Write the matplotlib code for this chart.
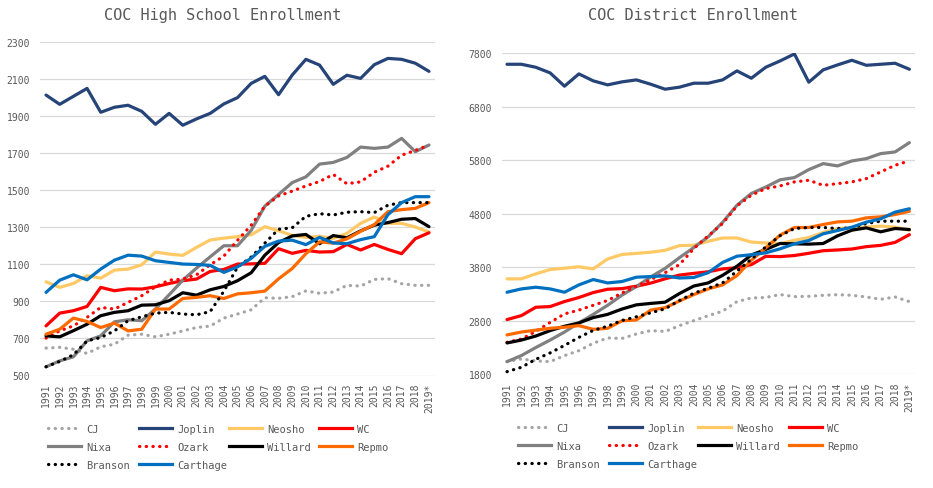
import matplotlib
matplotlib.use("Agg")
import matplotlib.pyplot as plt
from matplotlib.lines import Line2D

years = [str(y) for y in range(1991, 2019)] + ["2019*"]
series_names = ["CJ", "Joplin", "Neosho", "WC", "Nixa", "Ozark", "Willard", "Repmo", "Branson", "Carthage"]

# ---- High school enrollment ----
hs_cj = [648, 652, 642, 619, 655, 669, 718, 723, 709, 723, 741, 759, 767, 810, 832, 855, 920, 917, 926, 957, 944, 951, 987, 983, 1019, 1023, 996, 987, 987]
hs_joplin = [2015, 1965, 2008, 2051, 1922, 1949, 1960, 1927, 1857, 1916, 1852, 1886, 1916, 1967, 2001, 2078, 2116, 2017, 2123, 2208, 2177, 2073, 2122, 2105, 2179, 2213, 2208, 2187, 2143]
hs_neosho = [1006, 976, 997, 1039, 1026, 1069, 1075, 1098, 1167, 1156, 1149, 1192, 1232, 1242, 1250, 1260, 1304, 1282, 1257, 1246, 1252, 1240, 1268, 1322, 1356, 1322, 1322, 1302, 1275]
hs_wc = [768, 837, 850, 873, 976, 958, 968, 967, 979, 997, 1012, 1021, 1062, 1073, 1102, 1103, 1106, 1185, 1160, 1176, 1167, 1169, 1208, 1178, 1208, 1181, 1158, 1239, 1271]
hs_nixa = [547, 579, 601, 687, 714, 790, 801, 796, 859, 936, 1015, 1080, 1141, 1201, 1201, 1284, 1415, 1478, 1542, 1573, 1642, 1651, 1678, 1734, 1727, 1734, 1781, 1709, 1745]
hs_ozark = [702, 741, 768, 814, 868, 859, 895, 931, 979, 1015, 1021, 1044, 1098, 1145, 1230, 1312, 1415, 1470, 1496, 1524, 1548, 1586, 1536, 1546, 1598, 1631, 1690, 1716, 1745]
hs_willard = [714, 709, 742, 777, 823, 841, 850, 880, 882, 904, 947, 934, 963, 981, 1012, 1055, 1150, 1218, 1254, 1262, 1212, 1256, 1244, 1281, 1312, 1326, 1344, 1348, 1304]
hs_repmo = [723, 750, 810, 792, 759, 783, 741, 750, 859, 859, 916, 922, 931, 916, 941, 947, 956, 1022, 1078, 1158, 1222, 1215, 1238, 1279, 1315, 1385, 1396, 1403, 1434]
hs_branson = [547, 576, 612, 687, 705, 741, 796, 817, 837, 841, 832, 828, 845, 955, 1085, 1140, 1215, 1290, 1298, 1360, 1374, 1367, 1382, 1385, 1380, 1420, 1434, 1434, 1434]
hs_carthage = [949, 1015, 1044, 1017, 1075, 1123, 1150, 1145, 1120, 1111, 1102, 1100, 1095, 1057, 1087, 1133, 1198, 1226, 1231, 1207, 1246, 1216, 1212, 1234, 1250, 1369, 1434, 1466, 1466]

# ---- District enrollment ----
d_cj = [2037, 2087, 2050, 2037, 2149, 2242, 2380, 2480, 2470, 2554, 2617, 2600, 2710, 2804, 2895, 2980, 3158, 3226, 3236, 3291, 3252, 3258, 3276, 3288, 3276, 3246, 3202, 3246, 3158]
d_joplin = [7595, 7595, 7539, 7434, 7185, 7415, 7285, 7210, 7266, 7303, 7222, 7129, 7167, 7241, 7241, 7303, 7471, 7334, 7539, 7657, 7788, 7260, 7490, 7583, 7670, 7576, 7595, 7614, 7502]
d_neosho = [3584, 3584, 3677, 3758, 3783, 3810, 3770, 3956, 4040, 4060, 4082, 4118, 4205, 4212, 4286, 4348, 4348, 4272, 4255, 4243, 4305, 4356, 4452, 4524, 4540, 4552, 4570, 4552, 4492]
d_wc = [2823, 2897, 3053, 3066, 3160, 3235, 3328, 3390, 3402, 3446, 3505, 3585, 3655, 3686, 3717, 3770, 3792, 3850, 4005, 4000, 4020, 4062, 4110, 4124, 4142, 4186, 4210, 4265, 4410]
d_nixa = [2037, 2150, 2300, 2440, 2590, 2760, 2920, 3090, 3280, 3440, 3620, 3780, 3980, 4170, 4370, 4640, 4960, 5180, 5300, 5435, 5477, 5626, 5738, 5695, 5788, 5831, 5925, 5956, 6130]
d_ozark = [2398, 2460, 2600, 2770, 2929, 3000, 3090, 3180, 3320, 3446, 3570, 3700, 3850, 4150, 4388, 4618, 4948, 5147, 5271, 5321, 5396, 5427, 5333, 5364, 5396, 5458, 5582, 5707, 5790]
d_willard = [2386, 2440, 2515, 2617, 2698, 2760, 2860, 2920, 3020, 3098, 3125, 3148, 3310, 3450, 3508, 3650, 3820, 4030, 4133, 4245, 4239, 4233, 4245, 4388, 4494, 4537, 4463, 4525, 4506]
d_repmo = [2536, 2590, 2625, 2660, 2680, 2710, 2640, 2660, 2800, 2815, 3000, 3045, 3170, 3290, 3396, 3471, 3645, 3930, 4164, 4400, 4544, 4544, 4600, 4649, 4662, 4724, 4743, 4786, 4848]
d_branson = [1849, 1931, 2080, 2200, 2340, 2490, 2620, 2700, 2806, 2875, 2949, 3024, 3179, 3316, 3409, 3508, 3730, 3950, 4180, 4390, 4525, 4544, 4544, 4525, 4537, 4618, 4662, 4662, 4662]
d_carthage = [3334, 3396, 3428, 3396, 3334, 3471, 3571, 3508, 3534, 3615, 3627, 3640, 3600, 3610, 3700, 3890, 4008, 4035, 4070, 4145, 4239, 4301, 4426, 4488, 4550, 4644, 4706, 4831, 4894]

hs_ticks = [500, 700, 900, 1100, 1300, 1500, 1700, 1900, 2100, 2300]
d_ticks = [1800, 2800, 3800, 4800, 5800, 6800, 7800]

hs_data = [hs_cj, hs_joplin, hs_neosho, hs_wc, hs_nixa, hs_ozark, hs_willard, hs_repmo, hs_branson, hs_carthage]
d_data = [d_cj, d_joplin, d_neosho, d_wc, d_nixa, d_ozark, d_willard, d_repmo, d_branson, d_carthage]

colors = ["#A5A5A5", "#264478", "#FFC966", "#FF0000", "#808080", "#FF0000", "#000000", "#FF6A00", "#000000", "#0070C0"]
dotted = [True, False, False, False, False, True, False, False, True, False]

FONT = "DejaVu Sans Mono"
TXT = "#595959"
W, H = 933, 489
fig = plt.figure(figsize=(W / 100, H / 100), dpi=100)

def px_axes(x0, x1, ytop, ybot):
    return fig.add_axes([x0 / W, (H - ybot) / H, (x1 - x0) / W, (ybot - ytop) / H])

def style_line(ax, x, y, c, dot):
    if dot:
        ax.plot(x, y, color=c, lw=2.3, linestyle=(0, (0.1, 2.0)), dash_capstyle="round")
    else:
        ax.plot(x, y, color=c, lw=2.3, solid_capstyle="round", solid_joinstyle="round")

def draw(ax, data, ticks, xpad_l, xpad_r):
    x = list(range(len(years)))
    for vals, c, d in zip(data, colors, dotted):
        style_line(ax, x, vals, c, d)
    ax.set_ylim(ticks[0], ticks[-1])
    ax.set_yticks(ticks)
    ax.set_xlim(-xpad_l, len(years) - 1 + xpad_r)
    ax.set_xticks(x)
    ax.set_xticklabels(years, rotation=90)
    for s in ax.spines.values():
        s.set_visible(False)
    ax.grid(axis="y", color="#D9D9D9", lw=0.9)
    ax.set_axisbelow(True)
    ax.tick_params(length=0, colors=TXT, labelsize=7)
    ax.tick_params(axis="y", pad=7)
    ax.tick_params(axis="x", pad=5)
    for lab in ax.get_xticklabels() + ax.get_yticklabels():
        lab.set_fontfamily(FONT)

ax1 = px_axes(40, 435, 43.3, 376.5)
draw(ax1, hs_data, hs_ticks, 0.44, 0.44)
ax2 = px_axes(501.7, 915, 54.3, 375.3)
draw(ax2, d_data, d_ticks, 0.37, 0.39)

fig.text(223 / W, 1 - 15.5 / H, "COC High School Enrollment", ha="center", va="center",
         fontsize=11, color=TXT, fontfamily=FONT)
fig.text(693 / W, 1 - 15.5 / H, "COC District Enrollment", ha="center", va="center",
         fontsize=11, color=TXT, fontfamily=FONT)

def handle(i):
    if dotted[i]:
        return Line2D([], [], color=colors[i], lw=2.3, linestyle=(0, (0.1, 2.0)), dash_capstyle="round")
    return Line2D([], [], color=colors[i], lw=2.3)

# legend: 4 columns, row-major order of series
def legends(col_x, row1_y):
    for c in range(4):
        idx = [i for i in range(len(series_names)) if i % 4 == c]
        fig.legend([handle(i) for i in idx], [series_names[i] for i in idx],
                   loc="upper left", bbox_to_anchor=(col_x[c] / W, 1 - (row1_y - 7) / H),
                   frameon=False, borderpad=0, borderaxespad=0, handlelength=3.2,
                   handletextpad=0.45, labelspacing=0.78,
                   prop={"family": FONT, "size": 7.5}, labelcolor=TXT)

legends([48, 139, 229, 319], 431.7)
legends([518, 609, 698, 789], 430.7)

fig.savefig("out.png", dpi=100)
